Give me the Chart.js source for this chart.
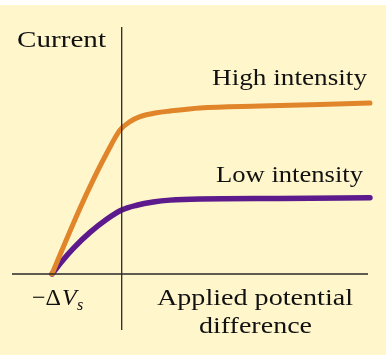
<!DOCTYPE html>
<html>
<head>
<meta charset="utf-8">
<script src="https://cdn.jsdelivr.net/npm/chart.js@4"></script>
<style>
  html, body { margin: 0; padding: 0; background: #fff; }
  #wrap { width: 390px; height: 360px; }
  .warm { font-family: "Liberation Serif"; position: absolute; left: -999px; }
</style>
</head>
<body>
<span class="warm">x</span><span class="warm"><i>x</i></span>
<div id="wrap"><canvas id="chart"></canvas></div>
<script>
// x in units of the stopping potential (-1 = -ΔVs), y relative to high-intensity saturation
const highX = [-1, -0.694, -0.455, -0.215, -0.024, 0.119, 0.263, 0.502, 0.693, 1.123, 1.984, 2.845, 3.562];
const highY = [0, 0.296, 0.511, 0.706, 0.842, 0.891, 0.920, 0.943, 0.953, 0.971, 0.982, 0.991, 1.0];
const lowX = [-1, -0.85, -0.694, -0.455, -0.215, 0, 0.215, 0.453, 0.693, 1.123, 2.27, 3.562];
const lowY = [0, 0.078, 0.150, 0.243, 0.320, 0.374, 0.402, 0.421, 0.432, 0.439, 0.442, 0.446];
const seriesNames = ["High intensity", "Low intensity"];

const toPoints = (xs, ys) => xs.map((x, i) => ({ x: x, y: ys[i] }));

const serif = "'Liberation Serif', serif";

// cream panel, axes and the text labels
const decor = {
  id: "decor",
  beforeDraw(chart) {
    const c = chart.ctx;
    c.save();
    c.fillStyle = "#fff6cc";
    c.fillRect(0, 5, 386, 350);
    c.restore();
  },
  afterDatasetsDraw(chart) {
    const c = chart.ctx;
    const sx = chart.scales.x, sy = chart.scales.y;
    const x0 = sx.getPixelForValue(0), y0 = sy.getPixelForValue(0);
    c.save();
    c.strokeStyle = "#2a2a2a";
    c.lineWidth = 1.3;
    c.beginPath();
    c.moveTo(x0, sy.getPixelForValue(1.444));
    c.lineTo(x0, sy.getPixelForValue(-0.327));
    c.moveTo(sx.getPixelForValue(-1.574), y0);
    c.lineTo(sx.getPixelForValue(3.534), y0);
    c.stroke();

    c.fillStyle = "#111";
    c.textBaseline = "alphabetic";
    const txt = (s, x, y, size, w) => {
      c.font = size + "px " + serif;
      const m = c.measureText(s).width;
      c.save();
      c.translate(x, y);
      c.scale(w / m, 1);
      c.fillText(s, 0, 0);
      c.restore();
    };
    txt("Current", 17, 47, 24, 89);
    txt(seriesNames[0], 212, 85, 24, 155);
    txt(seriesNames[1], 216, 182, 24, 147);
    txt("Applied potential", 157, 305, 24, 196);
    txt("difference", 199, 333, 24, 113);

    // −ΔVs label
    c.font = "24px " + serif;
    c.fillText("\u2212\u0394", 32, 305);
    c.font = "italic 24px " + serif;
    c.fillText("V", 62, 305);
    c.font = "italic 16px " + serif;
    c.fillText("s", 77, 310);
    c.restore();
  }
};

function draw() {
  new Chart(document.getElementById("chart"), {
    type: "line",
    data: {
      datasets: [
        {
          label: seriesNames[0],
          data: toPoints(highX, highY),
          borderColor: "#e0852a",
          borderWidth: 5,
          pointRadius: 0,
          cubicInterpolationMode: "monotone",
          borderCapStyle: "round"
        },
        {
          label: seriesNames[1],
          data: toPoints(lowX, lowY),
          borderColor: "#5c1a8c",
          borderWidth: 5.5,
          pointRadius: 0,
          cubicInterpolationMode: "monotone",
          borderCapStyle: "round"
        }
      ]
    },
    options: {
      responsive: true,
      maintainAspectRatio: false,
      animation: false,
      layout: { padding: 0 },
      plugins: { legend: { display: false }, tooltip: { enabled: false } },
      scales: {
        x: { type: "linear", display: false, min: -121.7 / 69.7, max: (390 - 121.7) / 69.7 },
        y: { type: "linear", display: false, min: -(360 - 274) / 171, max: 274 / 171 }
      }
    },
    plugins: [decor]
  });
}

Promise.all([
  document.fonts.load("24px 'Liberation Serif'"),
  document.fonts.load("italic 24px 'Liberation Serif'")
]).then(draw, draw);
</script>
</body>
</html>
